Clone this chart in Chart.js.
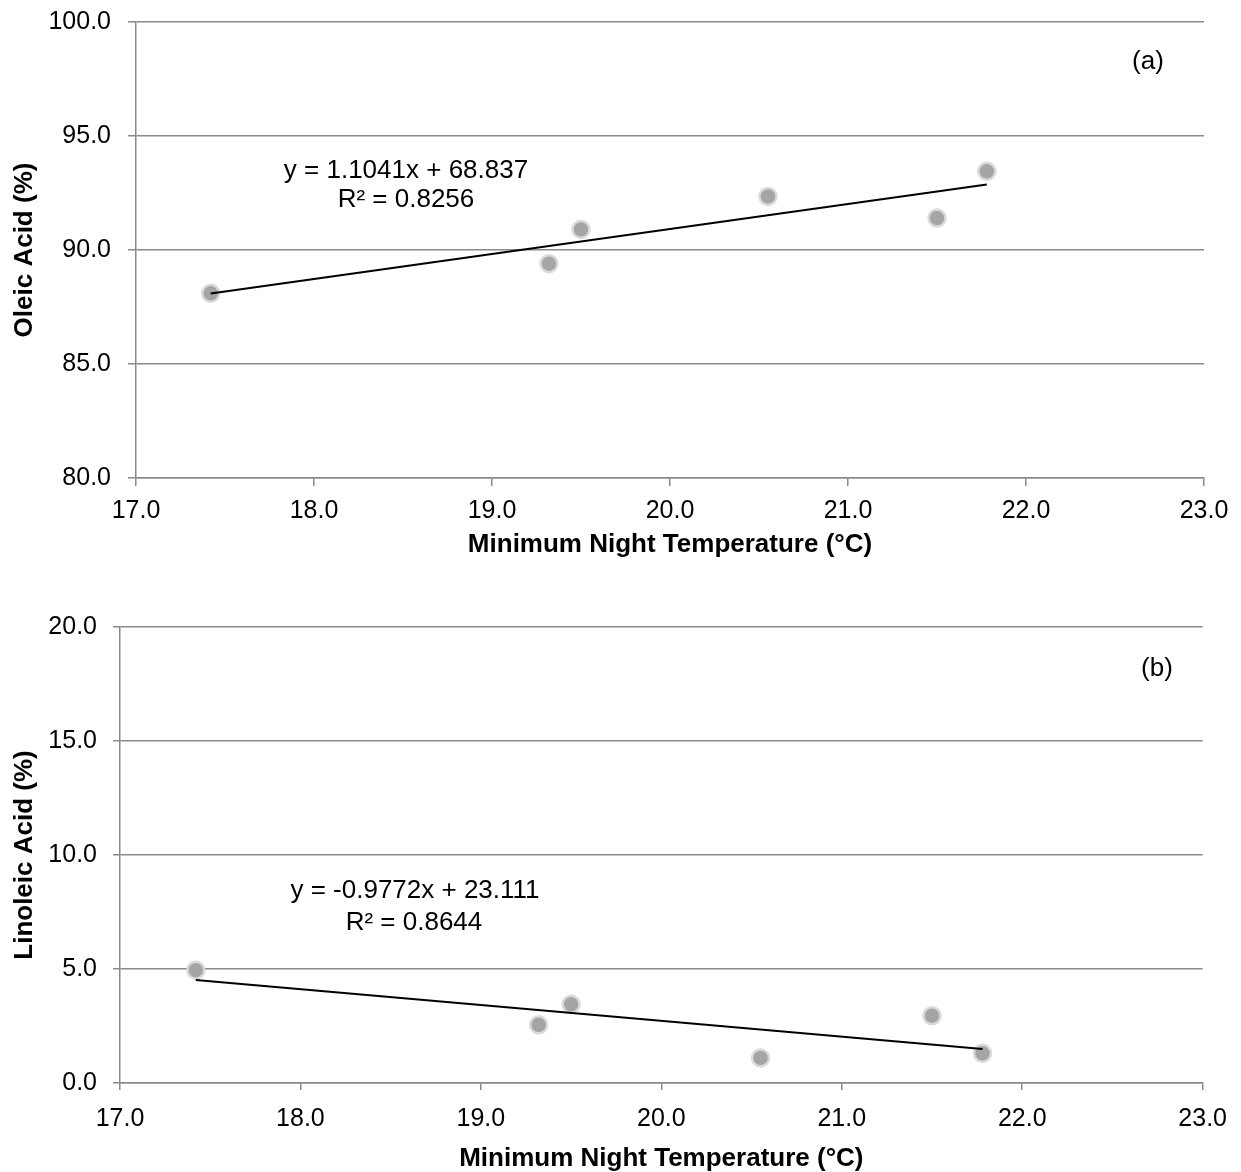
<!DOCTYPE html>
<html lang="en">
<head>
<meta charset="UTF-8">
<title>Oleic and linoleic acid vs minimum night temperature</title>
<script src="https://cdn.jsdelivr.net/npm/chart.js"></script>
<style>
  body { margin: 0; background: #fff; overflow: hidden; }
  .panel { position: absolute; left: 0; }
  #panelA { top: -10px; }
  #panelB { top: 590px; }
</style>
</head>
<body>
<div class="panel" id="panelB"><canvas id="chartB" width="1241" height="582"></canvas></div>
<div class="panel" id="panelA"><canvas id="chartA" width="1241" height="600"></canvas></div>
<script>
// measured values
const tempC = [17.42, 19.32, 19.50, 20.55, 21.50, 21.78];
const oleicPct = [88.1, 89.4, 90.9, 92.35, 91.4, 93.45];
const linoleicPct = [4.95, 2.55, 3.45, 1.1, 2.95, 1.3];

// axis ticks
const tempTicks = [17, 18, 19, 20, 21, 22, 23];
const oleicTicks = [80, 85, 90, 95, 100];
const linoleicTicks = [0, 5, 10, 15, 20];

// trendline labels
const oleicEq = ['y = 1.1041x + 68.837', 'R² = 0.8256'];
const linoleicEq = ['y = -0.9772x + 23.111', 'R² = 0.8644'];

const FONT = '"Liberation Sans", Arial, sans-serif';
const gridColor = '#8a8a8a';

function leastSquares(xs, ys) {
  const n = xs.length;
  const mx = xs.reduce((a, b) => a + b, 0) / n;
  const my = ys.reduce((a, b) => a + b, 0) / n;
  let sxy = 0, sxx = 0;
  for (let i = 0; i < n; i++) {
    sxy += (xs[i] - mx) * (ys[i] - my);
    sxx += (xs[i] - mx) * (xs[i] - mx);
  }
  const slope = sxy / sxx;
  return { slope: slope, intercept: my - slope * mx };
}

// plain text drawn on top of the chart (equation, panel letter)
const notesPlugin = {
  id: 'notes',
  afterDraw(chart, args, opts) {
    const ctx = chart.ctx;
    ctx.save();
    ctx.font = '26px ' + FONT;
    ctx.fillStyle = '#000';
    ctx.textAlign = 'center';
    ctx.textBaseline = 'middle';
    opts.items.forEach(n => ctx.fillText(n.text, n.x, n.y));
    ctx.restore();
  }
};

function makeChart(id, yValues, yTicks, yTitle, f, notes) {
  const fit = leastSquares(tempC, yValues);
  const ends = [Math.min(...tempC), Math.max(...tempC)];
  const trend = ends.map(x => ({ x: x, y: fit.slope * x + fit.intercept }));
  const points = tempC.map((x, i) => ({ x: x, y: yValues[i] }));

  return new Chart(document.getElementById(id), {
    type: 'scatter',
    data: {
      datasets: [
        { type: 'line', data: trend, borderColor: '#000', borderWidth: 2,
          pointRadius: 0, fill: false, order: 0 },
        { data: points, backgroundColor: '#a5a5a5', borderColor: '#dadada',
          borderWidth: 2.5, pointRadius: 8.5, pointHoverRadius: 8.5, order: 1 }
      ]
    },
    plugins: [notesPlugin],
    options: {
      responsive: false,
      animation: false,
      events: [],
      layout: { padding: { top: f.top, right: f.right, left: 0, bottom: 0 } },
      plugins: {
        legend: { display: false },
        tooltip: { enabled: false },
        notes: { items: notes }
      },
      scales: {
        x: {
          type: 'linear',
          min: tempTicks[0],
          max: tempTicks[tempTicks.length - 1],
          afterBuildTicks: s => { s.ticks = tempTicks.map(v => ({ value: v })); },
          afterFit: s => { s.height = f.xHeight; },
          ticks: { callback: v => v.toFixed(1), color: '#000', maxRotation: 0,
                   font: { family: FONT, size: 25 }, padding: f.xTickPad },
          grid: { drawOnChartArea: false, drawTicks: true, tickLength: f.tick,
                  color: gridColor, lineWidth: 1.5 },
          border: { color: gridColor, width: 1.5 },
          title: { display: true, text: 'Minimum Night Temperature (°C)', color: '#000',
                   font: { family: FONT, size: 26, weight: 'bold', lineHeight: 1 },
                   padding: { top: 0, bottom: f.xTitlePad } }
        },
        y: {
          min: yTicks[0],
          max: yTicks[yTicks.length - 1],
          afterBuildTicks: s => { s.ticks = yTicks.map(v => ({ value: v })); },
          afterFit: s => { s.width = f.yWidth; },
          ticks: { callback: v => v.toFixed(1), color: '#000',
                   font: { family: FONT, size: 25 }, padding: f.yTickPad },
          grid: { drawTicks: true, tickLength: f.tick, color: gridColor, lineWidth: 1.5 },
          border: { color: gridColor, width: 1.5 },
          title: { display: true, text: yTitle, color: '#000',
                   font: { family: FONT, size: 26, weight: 'bold', lineHeight: 1 },
                   padding: { top: 12, bottom: 0 } }
        }
      }
    }
  });
}

makeChart('chartA', oleicPct, oleicTicks, 'Oleic Acid (%)',
  { top: 31, right: 37, xHeight: 112, yWidth: 136, tick: 8,
    xTickPad: 10, yTickPad: 17, xTitlePad: 32 },
  [
    { text: oleicEq[0], x: 406, y: 181 },
    { text: oleicEq[1], x: 406, y: 210 },
    { text: '(a)', x: 1148, y: 72 }
  ]);

makeChart('chartB', linoleicPct, linoleicTicks, 'Linoleic Acid (%)',
  { top: 37, right: 38, xHeight: 89, yWidth: 120, tick: 7,
    xTickPad: 14, yTickPad: 16, xTitlePad: 0 },
  [
    { text: linoleicEq[0], x: 415, y: 301 },
    { text: linoleicEq[1], x: 414, y: 333 },
    { text: '(b)', x: 1157, y: 79 }
  ]);
</script>
</body>
</html>
